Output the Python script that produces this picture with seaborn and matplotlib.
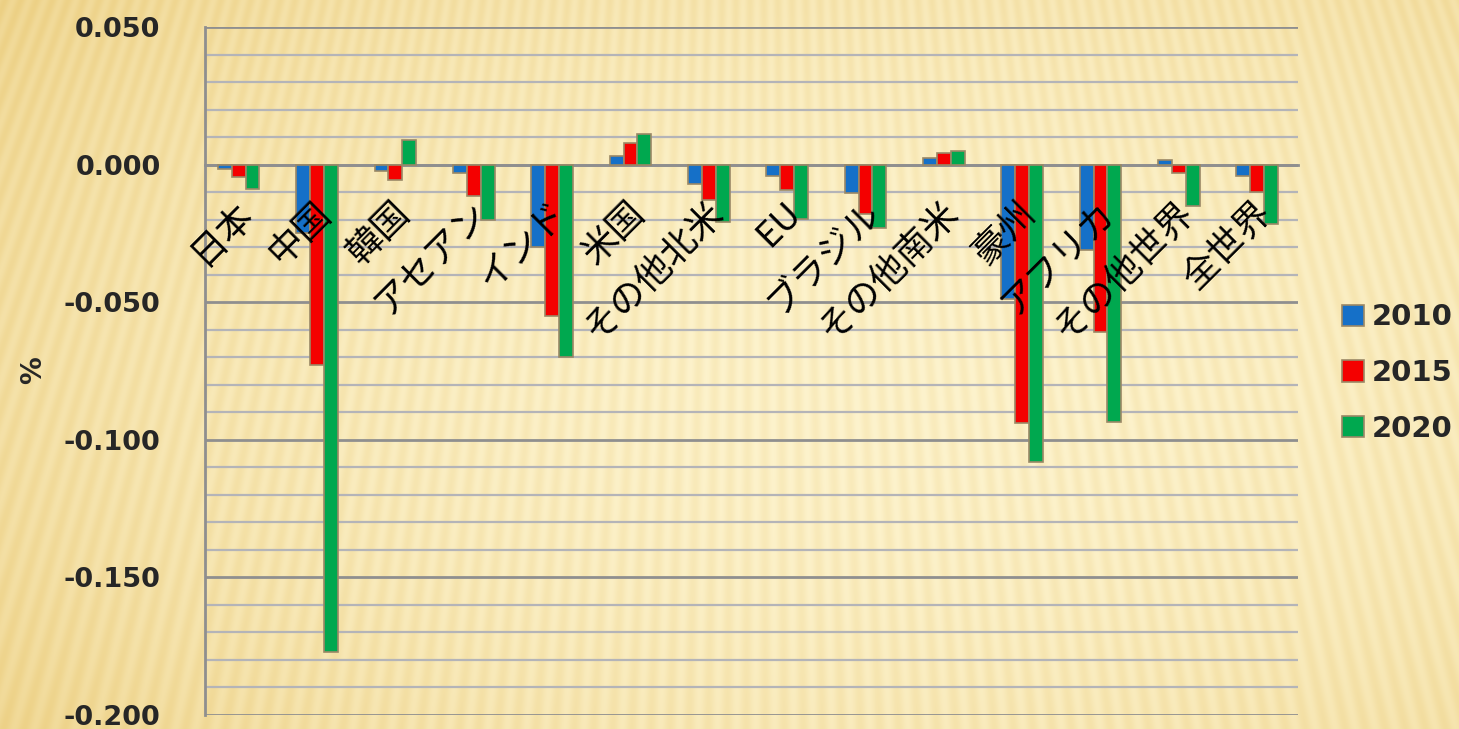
import numpy as np
import pandas as pd
import matplotlib
matplotlib.use("Agg")
import matplotlib.pyplot as plt
import seaborn as sns
from matplotlib.ticker import MultipleLocator, FormatStrFormatter
from matplotlib.patches import Patch

# values (%)
regions = ["日本", "中国", "韓国", "アセアン", "インド", "米国", "その他北米", "EU",
           "ブラジル", "その他南米", "豪州", "アフリカ", "その他世界", "全世界"]
years = ["2010", "2015", "2020"]
v2010 = [-0.0015, -0.025, -0.0025, -0.003, -0.030, 0.003, -0.007, -0.004,
         -0.0105, 0.0025, -0.049, -0.031, 0.0015, -0.004]
v2015 = [-0.0045, -0.073, -0.0055, -0.0115, -0.055, 0.008, -0.0127, -0.0094,
         -0.018, 0.0043, -0.094, -0.0607, -0.003, -0.010]
v2020 = [-0.009, -0.177, 0.009, -0.020, -0.070, 0.011, -0.021, -0.0197,
         -0.023, 0.0048, -0.108, -0.0937, -0.015, -0.0215]
colors = ["#1570c8", "#f40000", "#00a84f"]

df = pd.DataFrame({
    "region": regions * 3,
    "year": [y for y in years for _ in regions],
    "value": v2010 + v2015 + v2020,
})

sns.set_theme(style="white")
plt.rcParams["font.family"] = ["DejaVu Sans"]

fig = plt.figure(figsize=(14.59, 7.29), dpi=100)

# golden striped backdrop
H, W = 729, 1459
yy, xx = np.mgrid[0:H, 0:W]
theta = np.arctan2(xx - 760, yy + 2000)
stripe = 0.5 + 0.5 * np.sin(theta * 900)
r = np.hypot((xx - 900) / 900, (yy - 380) / 520)
t = np.clip(0.22 * stripe + 0.5 * r ** 2, 0, 1)
light = np.array([253, 243, 205]) / 255
dark = np.array([236, 207, 130]) / 255
img = light * (1 - t[..., None]) + dark * t[..., None]
bg = fig.add_axes([0, 0, 1, 1], zorder=-10)
bg.imshow(img, aspect="auto", extent=[0, 1, 0, 1])
bg.axis("off")

ax = fig.add_axes([205 / 1459, 1 - 715 / 729, 1093 / 1459, 688 / 729])
ax.patch.set_alpha(0)

sns.barplot(data=df, x="region", y="value", hue="year", order=regions,
            hue_order=years, palette=colors, saturation=1, width=0.53, gap=0,
            edgecolor="#9a8866", linewidth=1.2, legend=False, ax=ax, zorder=3)

ax.set_ylim(-0.2, 0.05)
ax.set_xlim(-0.43, 13.52)
ax.yaxis.set_major_locator(MultipleLocator(0.05))
ax.yaxis.set_minor_locator(MultipleLocator(0.01))
ax.yaxis.set_major_formatter(FormatStrFormatter("%.3f"))
ax.grid(which="minor", axis="y", color="#b4b4b8", linewidth=1.6, zorder=0)
ax.grid(which="major", axis="y", color="#8f8f8f", linewidth=2.0, zorder=0)
ax.set_axisbelow(True)

for s in ["top", "right"]:
    ax.spines[s].set_visible(False)
ax.spines["left"].set_color("#8f8f8f")
ax.spines["left"].set_linewidth(2)
ax.spines["bottom"].set_position(("data", 0))
ax.spines["bottom"].set_color("#8f8f8f")
ax.spines["bottom"].set_linewidth(2)

ax.tick_params(axis="y", which="major", direction="out", length=9, width=2,
               color="#8f8f8f", pad=23, labelsize=19.5)
ax.tick_params(axis="y", which="minor", length=0)
ax.tick_params(axis="x", length=0, labelbottom=False)
for lbl in ax.get_yticklabels():
    lbl.set_fontweight("bold")
ax.set_xlabel("")
ax.set_ylabel("")

# category labels hang under the zero line
for i, name in enumerate(regions):
    ax.annotate(name, xy=(i, 0), xytext=(-4, -30), textcoords="offset pixels",
                rotation=45, rotation_mode="anchor", ha="right", va="top",
                fontsize=26, family=["Noto Sans CJK JP", "DejaVu Sans"],
                color="black", zorder=5, annotation_clip=False)

fig.text(33 / 1459, 1 - 370 / 729, "%", rotation=90, ha="center", va="center",
         fontsize=20, fontweight="bold")

handles = [Patch(facecolor=c, edgecolor="#9a8866", linewidth=1.2) for c in colors]
ax.legend(handles, years, loc="center left", bbox_to_anchor=(1.03, 0.497),
          frameon=False, prop={"size": 21, "weight": "bold"},
          handlelength=0.75, handleheight=0.75, handletextpad=0.25,
          labelspacing=0.95, borderaxespad=0)

fig.savefig("out.png", dpi=100)
